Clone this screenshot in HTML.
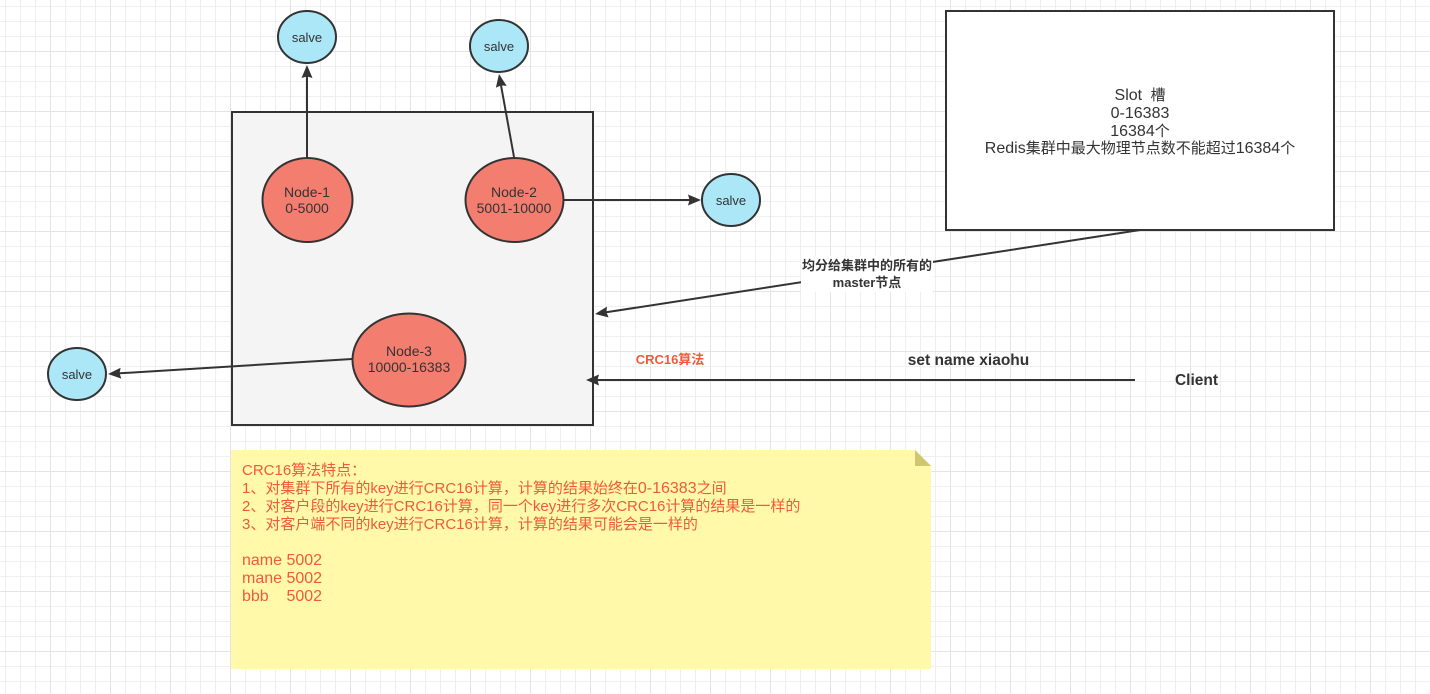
<!DOCTYPE html>
<html><head><meta charset="utf-8"><style>
html,body{margin:0;padding:0;background:#fff}
svg{display:block;position:absolute;left:0;top:0}
text{font-family:"Liberation Sans","Noto Sans CJK SC",sans-serif;fill:#333;text-anchor:middle;font-size:14px}
.s{font-size:13px}
.b{font-weight:bold;font-size:13px}
.h{font-weight:bold;font-size:15.5px}
.t{font-size:15px}
.l{font-size:16px}
.r{fill:#f05a3c}
.n{fill:#f05a3c;text-anchor:start;font-size:15px}
</style></head><body>
<svg width="1430" height="694" viewBox="0 0 1430 694" xmlns="http://www.w3.org/2000/svg">
<defs>
<pattern id="g" width="60" height="60" patternUnits="userSpaceOnUse" x="35" y="51">
<path d="M0 .5H60M0 15.5H60M0 30.5H60M0 45.5H60M.5 0V60M15.5 0V60M30.5 0V60M45.5 0V60" stroke="#efefef" fill="none"/>
<path d="M0 .5H60M15.5 0V60" stroke="#e4e4e4" fill="none"/>
</pattern>
<marker id="a" markerUnits="userSpaceOnUse" markerWidth="14" markerHeight="12" refX="5" refY="6" orient="auto"><path d="M0 .5L13 6L0 11.500L1.500 6Z" fill="#333"/></marker>
</defs>
<rect width="1430" height="694" fill="url(#g)"/>
<rect x="232" y="112" width="361" height="313" fill="#f4f4f4" stroke="#333" stroke-width="2"/>
<rect x="946" y="11" width="388" height="219" fill="#fff" stroke="#333" stroke-width="2"/>
<path d="M231 450H915L931 466V669H231Z" fill="#fff9a9"/>
<path d="M915 450L931 466H915Z" fill="#cfc76f"/>
<g stroke="#333" stroke-width="2" fill="none">
<path d="M307 157V73" marker-end="url(#a)"/>
<path d="M514 157L500.400 81.900" marker-end="url(#a)"/>
<path d="M564 200H693" marker-end="url(#a)"/>
<path d="M352 359L116 373.500" marker-end="url(#a)"/>
<path d="M1140 230L602.900 312.800" marker-end="url(#a)"/>
<path d="M1135 380H594" marker-end="url(#a)"/>
</g>
<g stroke="#333" stroke-width="2">
<ellipse cx="307" cy="37" rx="29" ry="26" fill="#abe7f6"/>
<ellipse cx="499" cy="46" rx="29" ry="26" fill="#abe7f6"/>
<ellipse cx="731" cy="200" rx="29" ry="26" fill="#abe7f6"/>
<ellipse cx="77" cy="374" rx="29" ry="26" fill="#abe7f6"/>
<ellipse cx="307.5" cy="200" rx="45" ry="42" fill="#f37e70"/>
<ellipse cx="514.5" cy="200" rx="49" ry="42" fill="#f37e70"/>
<ellipse cx="409" cy="360" rx="56.500" ry="46.500" fill="#f37e70"/>
</g>
<rect x="801" y="256" width="132" height="36" fill="#fff"/>
<text class="s" x="307" y="42">salve</text>
<text class="s" x="499" y="51">salve</text>
<text class="s" x="731" y="205">salve</text>
<text class="s" x="77" y="379">salve</text>
<text x="307" y="197">Node-1</text><text x="307" y="213">0-5000</text>
<text x="514" y="197">Node-2</text><text x="514" y="213">5001-10000</text>
<text x="409" y="356">Node-3</text><text x="409" y="372">10000-16383</text>
<text class="t" x="1140" y="100"><tspan class="l">Slot</tspan>&#160;&#160;槽</text>
<text class="t" x="1140" y="118"><tspan class="l">0-16383</tspan></text>
<text class="t" x="1140" y="136"><tspan class="l">16384</tspan>个</text>
<text class="t" x="1140" y="153"><tspan class="l">Redis</tspan>集群中最大物理节点数不能超过<tspan class="l">16384</tspan>个</text>
<text class="b" x="867" y="270">均分给集群中的所有的</text>
<text class="b" x="867" y="287">master节点</text>
<text class="b r" x="670" y="364">CRC16算法</text>
<text class="h" x="968.5" y="365">set name xiaohu</text>
<text class="h" x="1196.5" y="385">Client</text>
<text class="n" x="242" y="475">CRC16算法特点：</text>
<text class="n" x="242" y="493">1、对集群下所有的key进行CRC16计算，计算的结果始终在<tspan class="l">0-16383</tspan>之间</text>
<text class="n" x="242" y="511">2、对客户段的key进行CRC16计算，同一个key进行多次CRC16计算的结果是一样的</text>
<text class="n" x="242" y="529">3、对客户端不同的key进行CRC16计算，计算的结果可能会是一样的</text>
<text class="n" style="font-size:16px" x="242" y="565">name 5002</text>
<text class="n" style="font-size:16px" x="242" y="583">mane 5002</text>
<text class="n" style="font-size:16px" x="242" y="601">bbb&#160;&#160;&#160;&#160;5002</text>
</svg>
</body></html>
